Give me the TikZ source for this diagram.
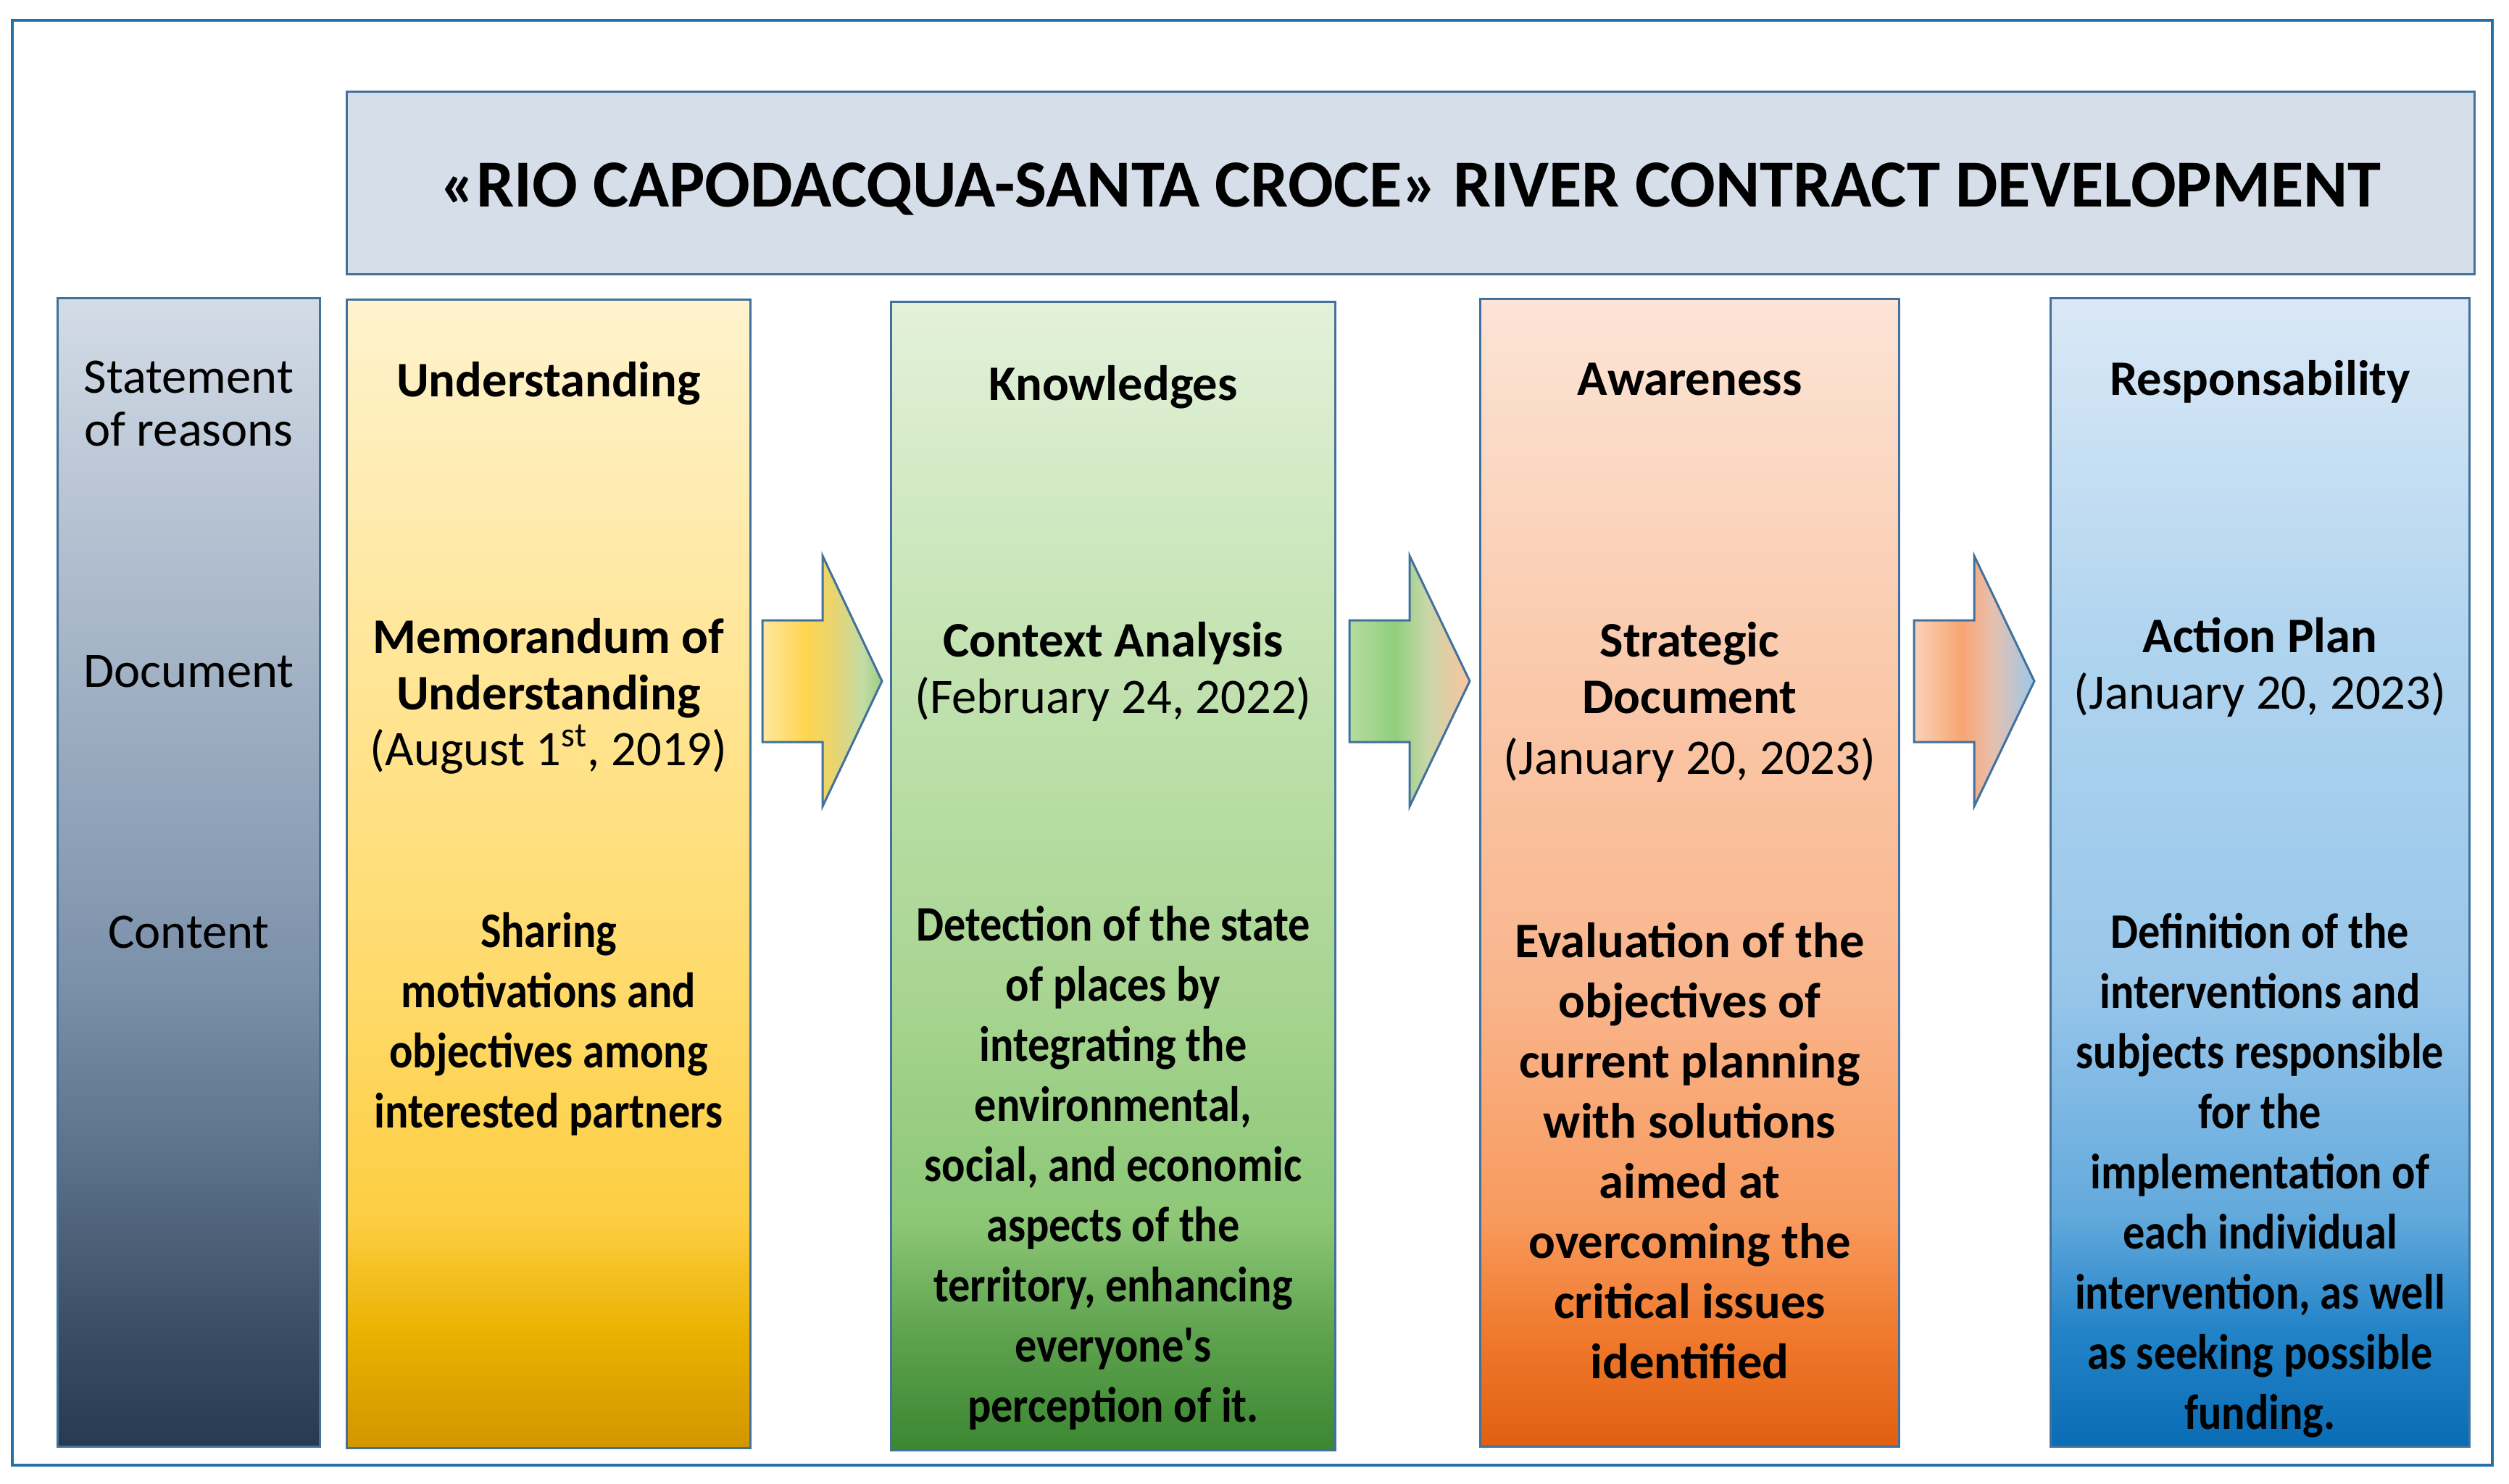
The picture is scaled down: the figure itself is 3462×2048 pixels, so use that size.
\documentclass[tikz,border=0pt]{standalone}
\usepackage{fontspec}
\setmainfont{Carlito}
\newfontfamily\tightfont[FakeStretch=0.88]{Carlito}
\usetikzlibrary{positioning}

\definecolor{frameblue}{HTML}{2471A8}
\definecolor{boxline}{HTML}{41719C}
\definecolor{titlefill}{HTML}{D6DFE9}
% column colours, bottom to top
\definecolor{r1}{HTML}{283A50}\definecolor{r2}{HTML}{3A4D64}\definecolor{r3}{HTML}{5B7189}
\definecolor{r4}{HTML}{7A90A9}\definecolor{r5}{HTML}{98A9BE}\definecolor{r6}{HTML}{B4C1D1}
\definecolor{r7}{HTML}{D3DCE7}
\definecolor{y1}{HTML}{D39500}\definecolor{y2}{HTML}{EAB200}\definecolor{y3}{HTML}{FDCE42}
\definecolor{y4}{HTML}{FFDA6A}\definecolor{y5}{HTML}{FFE69A}\definecolor{y6}{HTML}{FFF3CE}
\definecolor{g1}{HTML}{3B8731}\definecolor{g2}{HTML}{5EA24E}\definecolor{g3}{HTML}{8CC776}
\definecolor{g4}{HTML}{A8D592}\definecolor{g5}{HTML}{C4E3B2}\definecolor{g6}{HTML}{E3F1DA}
\definecolor{o1}{HTML}{E05F10}\definecolor{o2}{HTML}{F07A2E}\definecolor{o3}{HTML}{F89A5E}
\definecolor{o4}{HTML}{F9B58C}\definecolor{o5}{HTML}{FACBAE}\definecolor{o6}{HTML}{FCE4D6}
\definecolor{b1}{HTML}{0A6CB4}\definecolor{b2}{HTML}{2283C8}\definecolor{b3}{HTML}{62A9DC}
\definecolor{b4}{HTML}{98C6EA}\definecolor{b5}{HTML}{B0D4EF}\definecolor{b6}{HTML}{DAE8F6}
% arrow colours, left to right
\definecolor{ayl}{HTML}{FFE8A0}\definecolor{ays}{HTML}{FFD550}\definecolor{aym}{HTML}{E8D470}
\definecolor{ayg}{HTML}{C2DCA6}\definecolor{ayt}{HTML}{9CCC84}
\definecolor{agl}{HTML}{B5DC9E}\definecolor{ags}{HTML}{90CF7E}\definecolor{agm}{HTML}{C8D7A8}
\definecolor{agt}{HTML}{FBC3A0}
\definecolor{aol}{HTML}{FAD2B8}\definecolor{aos}{HTML}{F8A572}\definecolor{aom}{HTML}{E6C0B0}
\definecolor{aot}{HTML}{9CC8EA}

\pgfdeclareverticalshading{reasonshade}{100bp}{color(0bp)=(r1); color(25bp)=(r1); color(30bp)=(r2);
  color(37.5bp)=(r3); color(45bp)=(r4); color(55bp)=(r5); color(65bp)=(r6); color(75bp)=(r7); color(100bp)=(r7)}
\pgfdeclareverticalshading{undshade}{100bp}{color(0bp)=(y1); color(25bp)=(y1); color(30bp)=(y2);
  color(35bp)=(y3); color(45bp)=(y4); color(60bp)=(y5); color(75bp)=(y6); color(100bp)=(y6)}
\pgfdeclareverticalshading{knowshade}{100bp}{color(0bp)=(g1); color(25bp)=(g1); color(30bp)=(g2);
  color(35bp)=(g3); color(45bp)=(g4); color(60bp)=(g5); color(75bp)=(g6); color(100bp)=(g6)}
\pgfdeclareverticalshading{awareshade}{100bp}{color(0bp)=(o1); color(25bp)=(o1); color(30bp)=(o2);
  color(35bp)=(o3); color(45bp)=(o4); color(60bp)=(o5); color(75bp)=(o6); color(100bp)=(o6)}
\pgfdeclareverticalshading{respshade}{100bp}{color(0bp)=(b1); color(25bp)=(b1); color(30bp)=(b2);
  color(35bp)=(b3); color(45bp)=(b4); color(60bp)=(b5); color(75bp)=(b6); color(100bp)=(b6)}
\pgfdeclarehorizontalshading{arrowone}{100bp}{color(0bp)=(ayl); color(25bp)=(ayl); color(43bp)=(ays);
  color(55bp)=(aym); color(67bp)=(ayg); color(75bp)=(ayt); color(100bp)=(ayt)}
\pgfdeclarehorizontalshading{arrowtwo}{100bp}{color(0bp)=(agl); color(25bp)=(agl); color(44bp)=(ags);
  color(57bp)=(agm); color(75bp)=(agt); color(100bp)=(agt)}
\pgfdeclarehorizontalshading{arrowthree}{100bp}{color(0bp)=(aol); color(25bp)=(aol); color(45bp)=(aos);
  color(58bp)=(aom); color(75bp)=(aot); color(100bp)=(aot)}

\begin{document}
\begin{tikzpicture}[
  x=0.01cm, y=-0.01cm,
  colbox/.style={draw=boxline, line width=0.85pt, shade, inner sep=0pt, minimum width=#1, minimum height=15.84cm},
  titlebox/.style={draw=boxline, line width=0.85pt, fill=titlefill, minimum width=29.35cm, minimum height=2.51cm,
    text height=19pt, text depth=0pt, font=\fontsize{26.4}{30}\selectfont\bfseries},
  lbl/.style={align=center, font=\fontsize{19.5}{20.8}\selectfont},
  hdr/.style={anchor=base, font=\fontsize{19.5}{23}\selectfont\bfseries},
  doc/.style={align=center, font=\fontsize{19.5}{22}\selectfont},
  body/.style={align=center, font=\fontsize{19.5}{23.6}\selectfont\bfseries},
  tight/.style={align=center, font=\tightfont\fontsize{19.5}{23.6}\selectfont\bfseries},
  blockarr/.style={draw=boxline, line width=0.85pt}
]
\useasboundingbox (0,0) rectangle (3462,2048);
\fill[white] (0,0) rectangle (3462,2048);
\draw[frameblue, line width=0.95pt] (17,28) rectangle (3439,2022);

\node[titlebox] (title) at (1946.5,252.5) {«RIO CAPODACQUA-SANTA CROCE» RIVER CONTRACT DEVELOPMENT};

% columns
\node[colbox=3.61cm, shading=reasonshade] (reasons) at (260.5,1204) {};
\node[colbox=5.56cm, shading=undshade] (und) at (757,1206) {};
\node[colbox=6.12cm, shading=knowshade] (know) at (1536,1209) {};
\node[colbox=5.77cm, shading=awareshade] (aware) at (2331.5,1204.5) {};
\node[colbox=5.77cm, shading=respshade] (resp) at (3118.5,1204) {};

% row labels
\node[lbl] (stmt) at (260.5,557) {Statement\\of reasons};
\node[lbl, anchor=base] (docrow) at (260.5,948) {Document};
\node[lbl, anchor=base] (controw) at (260.5,1308) {Content};

% headers
\node[hdr] (undhd) at (757,547) {Understanding};
\node[hdr] (knowhd) at (1536,552) {Knowledges};
\node[hdr] (awarehd) at (2331.5,545) {Awareness};
\node[hdr] (resphd) at (3118.5,545) {Responsability};

% documents
\node[doc] (unddoc) at (757,961) {\textbf{Memorandum of}\\\textbf{Understanding}\\(August 1\textsuperscript{st}, 2019)};
\node[doc] (knowdoc) at (1536,927) {\textbf{Context Analysis}\\(February 24, 2022)};
\node[doc] (awaredoc) at (2331.5,969) {\textbf{Strategic}\\\textbf{Document}\\[2pt](January 20, 2023)};
\node[doc] (respdoc) at (3118.5,921) {\textbf{Action Plan}\\(January 20, 2023)};

% contents
\node[tight] (undtxt) at (757,1413) {Sharing\\motivations and\\objectives among\\interested partners};
\node[tight] (knowtxt) at (1536,1612) {Detection of the state\\of places by\\integrating the\\environmental,\\social, and economic\\aspects of the\\territory, enhancing\\everyone's\\perception of it.};
\node[body] (awaretxt) at (2331.5,1588) {Evaluation of the\\objectives of\\current planning\\with solutions\\aimed at\\overcoming the\\critical issues\\identified};
\node[tight] (resptxt) at (3118.5,1622) {Definition of the\\interventions and\\subjects responsible\\for the\\implementation of\\each individual\\intervention, as well\\as seeking possible\\funding.};

% block arrows between the phases
\shade[blockarr, shading=arrowone] (1052,856) -- (1135,856) -- (1135,767) -- (1217,940) -- (1135,1113) -- (1135,1024) -- (1052,1024) -- cycle;
\shade[blockarr, shading=arrowtwo] (1862,856) -- (1945,856) -- (1945,767) -- (2028,940) -- (1945,1113) -- (1945,1024) -- (1862,1024) -- cycle;
\shade[blockarr, shading=arrowthree] (2641,856) -- (2724,856) -- (2724,767) -- (2807,940) -- (2724,1113) -- (2724,1024) -- (2641,1024) -- cycle;
\end{tikzpicture}
\end{document}
